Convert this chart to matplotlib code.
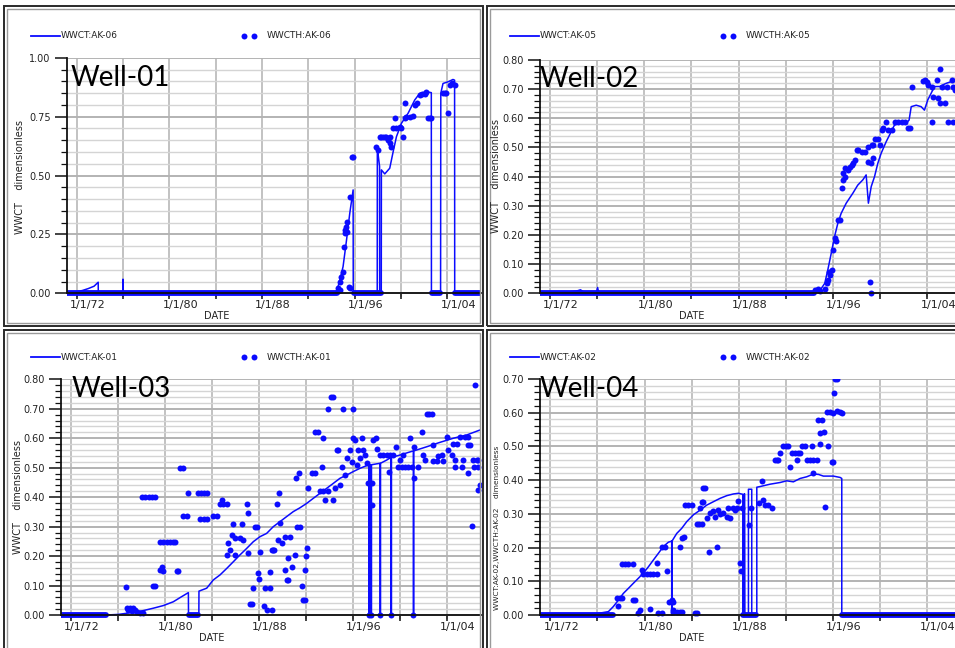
#!/usr/bin/env python3

import matplotlib
matplotlib.use('Agg')
import matplotlib.pyplot as plt
import matplotlib.transforms as mtransforms
from matplotlib.lines import Line2D
from matplotlib.patches import Rectangle
from matplotlib.ticker import FixedLocator, MultipleLocator, FormatStrFormatter, NullFormatter

BLUE = '#0b0bff'
W, H = 955, 648

date_ticks = [1972, 1980, 1988, 1996, 2004]
date_labels = ['1/1/72', '1/1/80', '1/1/88', '1/1/96', '1/1/04']
date_minor = [1976, 1984, 1992, 2000]

# ---- Well-01 (AK-06) ----
well01_line = [(1971.1, 0.0), (1971.9, 0.005), (1972.5, 0.012), (1973.0, 0.02), (1973.5, 0.03),
               (1973.86, 0.047), (1973.87, 0.0), (1975.98, 0.0), (1976.0, 0.06), (1976.03, 0.0),
               (1994.43, 0.003), (1994.72, 0.056), (1995.0, 0.113), (1995.3, 0.226), (1995.58, 0.34),
               (1995.87, 0.439), (1995.88, 0.0), (1997.95, 0.0), (1997.96, 0.62), (1998.05, 0.58),
               (1998.15, 0.54), (1998.16, 0.0), (1998.3, 0.0), (1998.31, 0.524), (1998.6, 0.507),
               (1999.03, 0.531), (1999.32, 0.6), (1999.61, 0.665), (2000.04, 0.722), (2000.61, 0.764),
               (2001.19, 0.821), (2001.62, 0.849), (2002.2, 0.856), (2002.62, 0.852), (2002.63, 0.0),
               (2003.42, 0.0), (2003.44, 0.85), (2003.63, 0.891), (2004.06, 0.898), (2004.49, 0.908),
               (2004.63, 0.905), (2004.64, 0.0), (2007.0, 0.0)]
well01_obs = [(1994.57, 0.021), (1994.72, 0.049), (1994.86, 0.07), (1995.0, 0.092), (1995.06, 0.198),
              (1995.15, 0.255), (1995.23, 0.283), (1995.3, 0.304), (1995.38, 0.262), (1995.2, 0.27),
              (1995.58, 0.411), (1995.73, 0.58), (1995.87, 0.58), (1995.52, 0.028), (1995.64, 0.021),
              (1994.6, 0.01), (1994.75, 0.015),
              (1997.88, 0.622), (1998.02, 0.608), (1998.17, 0.665), (1998.3, 0.665), (1998.45, 0.665),
              (1998.6, 0.665), (1998.75, 0.665), (1998.89, 0.651), (1999.03, 0.637), (1999.18, 0.622),
              (1999.03, 0.665), (1999.32, 0.701), (1999.46, 0.743), (1999.61, 0.701), (1999.9, 0.708),
              (2000.04, 0.701), (2000.18, 0.662), (2000.33, 0.743), (2000.47, 0.75), (2000.76, 0.75),
              (2001.04, 0.753), (2000.33, 0.806), (2001.19, 0.799), (2001.39, 0.806), (2001.62, 0.842),
              (2001.8, 0.846), (2002.05, 0.846), (2002.2, 0.856), (2002.34, 0.743), (2002.5, 0.743),
              (2002.63, 0.743), (2003.63, 0.849), (2003.78, 0.849), (2003.92, 0.849), (2004.06, 0.764),
              (2004.21, 0.884), (2004.44, 0.891), (2004.64, 0.884)]
well01_zero = [(1971.1, 1994.5), (1995.95, 1998.3), (2002.65, 2003.4), (2004.7, 2007.0)]

# ---- Well-02 (AK-05) ----
well02_line = [(1971.1, 0.0), (1972.0, 0.002), (1973.5, 0.004), (1974.3, 0.008), (1974.6, 0.012),
               (1974.9, 0.004), (1975.95, 0.003), (1976.05, 0.02), (1976.15, 0.002), (1994.2, 0.003),
               (1994.9, 0.01), (1995.3, 0.034), (1995.56, 0.08), (1995.85, 0.137), (1996.13, 0.194),
               (1996.41, 0.24), (1996.69, 0.274), (1997.12, 0.309), (1997.68, 0.343), (1998.1, 0.371),
               (1998.53, 0.389), (1998.81, 0.406), (1999.0, 0.309), (1999.24, 0.366), (1999.52, 0.4),
               (1999.8, 0.446), (2000.08, 0.48), (2000.51, 0.52), (2000.93, 0.554), (2001.21, 0.577),
               (2001.64, 0.583), (2002.2, 0.583), (2002.45, 0.594), (2002.63, 0.64), (2003.05, 0.645),
               (2003.47, 0.64), (2003.75, 0.628), (2004.03, 0.663), (2004.32, 0.686), (2004.6, 0.709),
               (2005.03, 0.709), (2005.59, 0.72), (2006.4, 0.731)]
well02_obs = [(1994.47, 0.011), (1994.76, 0.014), (1994.9, 0.009), (1995.32, 0.014), (1995.46, 0.034),
              (1995.6, 0.046), (1995.69, 0.074), (1995.89, 0.08), (1995.75, 0.063), (1996.03, 0.149),
              (1996.17, 0.189), (1996.25, 0.18), (1996.45, 0.251), (1996.59, 0.251), (1996.73, 0.36),
              (1996.82, 0.389), (1997.02, 0.4), (1996.87, 0.411), (1997.02, 0.429), (1997.3, 0.423),
              (1997.44, 0.434), (1997.58, 0.44), (1997.72, 0.446), (1997.86, 0.457), (1998.0, 0.491),
              (1998.15, 0.491), (1998.43, 0.486), (1998.71, 0.486), (1998.99, 0.503), (1999.28, 0.508),
              (1998.99, 0.451), (1999.22, 0.446), (1999.36, 0.463), (1999.42, 0.508), (1999.56, 0.528),
              (1999.84, 0.528), (1999.98, 0.508), (2000.13, 0.56), (2000.26, 0.566), (2000.49, 0.588),
              (2000.69, 0.56), (2000.97, 0.56), (2001.25, 0.588), (2001.53, 0.588), (2001.82, 0.588),
              (2002.1, 0.588), (2002.38, 0.566), (2002.55, 0.566), (2002.67, 0.709), (2003.65, 0.728),
              (2003.8, 0.731), (2003.94, 0.726), (2004.08, 0.714), (2004.36, 0.709), (2004.36, 0.588),
              (2004.5, 0.674), (2004.78, 0.731), (2004.9, 0.668), (2005.07, 0.769), (2005.07, 0.651),
              (2005.21, 0.709), (2005.49, 0.651), (2005.63, 0.709), (2005.77, 0.588), (2006.05, 0.731),
              (2006.19, 0.709), (2006.19, 0.588), (2006.34, 0.697), (1999.14, 0.04), (1999.22, 0.0)]
well02_zero = [(1971.1, 1994.4)]

# ---- Well-03 (AK-01) ----
well03_line = [(1971.1, 0.0), (1975.0, 0.0), (1976.03, 0.002), (1977.3, 0.009), (1978.16, 0.015),
               (1979.0, 0.023), (1979.86, 0.032), (1980.71, 0.045), (1981.28, 0.059), (1981.99, 0.076),
               (1982.0, 0.0), (1982.88, 0.0), (1982.89, 0.081), (1983.55, 0.091), (1984.11, 0.119),
               (1984.68, 0.136), (1985.25, 0.158), (1985.82, 0.181), (1986.38, 0.204), (1986.95, 0.226),
               (1987.52, 0.249), (1988.09, 0.266), (1988.65, 0.277), (1989.22, 0.3), (1989.79, 0.317),
               (1990.35, 0.334), (1990.92, 0.351), (1991.49, 0.364), (1992.06, 0.379), (1992.62, 0.396),
               (1993.19, 0.413), (1993.76, 0.43), (1994.33, 0.447), (1994.89, 0.464), (1995.46, 0.475),
               (1996.03, 0.487), (1996.6, 0.498), (1997.16, 0.507),
               (1997.36, 0.509), (1997.36, 0.0), (1997.4, 0.0), (1997.4, 0.509),
               (1997.53, 0.51), (1997.53, 0.0), (1997.57, 0.0), (1997.57, 0.51),
               (1998.3, 0.515), (1998.3, 0.0), (1998.34, 0.0), (1998.34, 0.515),
               (1998.87, 0.526), (1999.23, 0.535), (1999.23, 0.0), (1999.27, 0.0), (1999.27, 0.535),
               (2000.0, 0.543), (2001.13, 0.557), (2001.13, 0.0), (2001.17, 0.0), (2001.17, 0.557),
               (2002.27, 0.571), (2003.4, 0.586), (2004.54, 0.6), (2005.67, 0.611), (2006.81, 0.628),
               (2007.0, 0.63)]
well03_obs = [(1976.7, 0.096),
              (1976.74, 0.023), (1976.88, 0.017), (1977.02, 0.025), (1977.16, 0.012), (1977.3, 0.025),
              (1977.45, 0.017), (1977.59, 0.009), (1977.87, 0.006), (1978.16, 0.006),
              (1978.01, 0.402), (1978.3, 0.402), (1978.6, 0.402), (1978.9, 0.402), (1979.15, 0.402),
              (1979.01, 0.10), (1979.15, 0.10),
              (1979.57, 0.153), (1979.72, 0.164), (1979.86, 0.15), (1981.0, 0.15), (1981.13, 0.15),
              (1979.57, 0.249), (1979.85, 0.249), (1980.15, 0.249), (1980.45, 0.249), (1980.71, 0.249),
              (1980.85, 0.249),
              (1981.28, 0.50), (1981.56, 0.50), (1981.56, 0.336), (1981.84, 0.336),
              (1981.99, 0.413), (1982.84, 0.413), (1983.1, 0.413), (1983.3, 0.413), (1983.55, 0.413),
              (1983.0, 0.325), (1983.3, 0.325), (1983.55, 0.325), (1984.1, 0.335), (1984.4, 0.335),
              (1984.68, 0.377), (1984.82, 0.39), (1984.96, 0.377), (1985.25, 0.377),
              (1985.82, 0.308), (1986.53, 0.308), (1986.95, 0.376), (1987.09, 0.345),
              (1985.67, 0.272), (1985.96, 0.26), (1986.38, 0.26), (1986.6, 0.255),
              (1985.39, 0.243), (1985.53, 0.22), (1985.25, 0.204), (1985.96, 0.204),
              (1987.66, 0.30), (1987.8, 0.30), (1987.03, 0.209), (1988.09, 0.215),
              (1987.95, 0.141), (1988.03, 0.121), (1987.46, 0.09), (1987.23, 0.036), (1987.38, 0.036),
              (1988.43, 0.031), (1988.51, 0.09), (1988.65, 0.017),
              (1989.08, 0.22), (1989.2, 0.22), (1989.3, 0.22), (1989.65, 0.255), (1989.93, 0.243),
              (1989.79, 0.311), (1989.5, 0.376), (1989.73, 0.413),
              (1990.21, 0.266), (1990.64, 0.266), (1990.5, 0.192), (1991.06, 0.204),
              (1990.21, 0.153), (1990.78, 0.164), (1990.35, 0.119), (1990.5, 0.119),
              (1988.94, 0.147), (1988.94, 0.09), (1989.08, 0.017),
              (1991.21, 0.30), (1991.49, 0.30), (1991.15, 0.464), (1991.43, 0.481),
              (1992.06, 0.226), (1992.0, 0.201), (1991.91, 0.153), (1991.63, 0.10), (1991.77, 0.051),
              (1991.91, 0.051),
              (1992.2, 0.43), (1992.48, 0.481), (1992.76, 0.481), (1993.33, 0.504),
              (1992.76, 0.622), (1993.05, 0.622), (1993.48, 0.60),
              (1993.19, 0.422), (1993.48, 0.422), (1993.9, 0.422), (1993.62, 0.39), (1994.33, 0.39),
              (1994.47, 0.43), (1994.89, 0.441),
              (1993.9, 0.70), (1994.13, 0.741), (1994.27, 0.741), (1995.12, 0.698), (1996.03, 0.698),
              (1994.61, 0.56), (1994.75, 0.56), (1996.03, 0.60), (1996.17, 0.594), (1996.74, 0.60),
              (1995.04, 0.504), (1995.32, 0.475), (1995.74, 0.56), (1995.46, 0.532), (1995.89, 0.52),
              (1996.31, 0.509), (1996.6, 0.532), (1996.45, 0.56), (1996.88, 0.56), (1997.02, 0.543),
              (1997.16, 0.515),
              (1997.3, 0.447), (1997.45, 0.447), (1997.59, 0.447), (1997.59, 0.373),
              (1997.73, 0.594), (1997.95, 0.60), (1998.01, 0.562),
              (1998.3, 0.543), (1998.58, 0.543), (1998.87, 0.543), (1999.15, 0.543), (1999.09, 0.487),
              (1999.43, 0.543), (1999.66, 0.571),
              (1999.86, 0.504), (2000.14, 0.504), (2000.43, 0.504), (2000.71, 0.504), (2000.99, 0.504),
              (2000.0, 0.526), (2000.28, 0.543), (2000.85, 0.60), (2001.19, 0.571), (2001.19, 0.464),
              (2001.56, 0.504), (2001.84, 0.622), (2001.99, 0.543), (2002.13, 0.526),
              (2002.27, 0.681), (2002.5, 0.681), (2002.7, 0.681),
              (2002.84, 0.577), (2002.84, 0.524), (2003.12, 0.524), (2003.26, 0.54), (2003.54, 0.543),
              (2003.69, 0.524),
              (2003.97, 0.603), (2004.11, 0.56), (2004.4, 0.543), (2004.54, 0.58), (2004.82, 0.58),
              (2004.68, 0.504), (2005.25, 0.504), (2004.68, 0.526), (2005.39, 0.526),
              (2005.11, 0.605), (2005.5, 0.605), (2005.82, 0.605), (2005.82, 0.577), (2005.96, 0.577),
              (2005.82, 0.481), (2006.1, 0.302),
              (2006.24, 0.526), (2006.52, 0.526), (2006.67, 0.526), (2006.3, 0.504), (2006.67, 0.504),
              (2006.38, 0.781), (2006.6, 0.424), (2006.81, 0.441),
              (1997.36, 0.0), (1997.53, 0.0), (1998.3, 0.0), (1999.23, 0.0), (2001.13, 0.0)]
well03_zero = [(1971.1, 1975.0), (1982.05, 1982.85)]

# ---- Well-04 (AK-02) ----
well04_line = [(1971.1, 0.0), (1975.94, 0.004), (1976.93, 0.01), (1977.35, 0.025), (1977.78, 0.044),
               (1978.2, 0.064), (1978.63, 0.079), (1979.05, 0.094), (1979.48, 0.109), (1979.9, 0.124),
               (1980.33, 0.143), (1980.75, 0.163), (1981.18, 0.183), (1981.6, 0.203), (1982.03, 0.216),
               (1982.31, 0.219), (1982.31, 0.0), (1982.35, 0.0), (1982.35, 0.22),
               (1982.74, 0.242), (1983.16, 0.257), (1983.59, 0.277), (1984.15, 0.297), (1984.72, 0.311),
               (1985.29, 0.326), (1985.85, 0.336), (1986.42, 0.346), (1986.99, 0.354), (1987.55, 0.359),
               (1987.98, 0.361), (1988.35, 0.358), (1988.35, 0.0), (1988.49, 0.0), (1988.49, 0.36),
               (1988.51, 0.0), (1988.83, 0.0), (1988.83, 0.373), (1989.11, 0.373), (1989.11, 0.0),
               (1989.54, 0.0), (1989.54, 0.379), (1989.82, 0.381), (1990.67, 0.388), (1991.52, 0.393),
               (1992.08, 0.398), (1992.65, 0.395), (1993.22, 0.405), (1993.78, 0.41), (1994.35, 0.418),
               (1994.78, 0.417), (1995.2, 0.412), (1996.05, 0.412), (1996.62, 0.408), (1996.76, 0.405),
               (1996.76, 0.0), (2007.0, 0.0)]
well04_obs = [(1977.78, 0.027), (1977.64, 0.051), (1977.92, 0.051), (1978.06, 0.051), (1978.06, 0.151),
              (1978.35, 0.151), (1978.63, 0.151), (1979.05, 0.151), (1979.05, 0.044), (1979.2, 0.044),
              (1979.62, 0.015), (1979.48, 0.007), (1979.76, 0.133), (1979.9, 0.122), (1980.19, 0.122),
              (1980.47, 0.122), (1980.75, 0.122), (1981.04, 0.122), (1980.47, 0.018), (1981.04, 0.153),
              (1981.46, 0.203), (1981.75, 0.203), (1981.89, 0.131), (1981.18, 0.005), (1981.46, 0.005),
              (1982.31, 0.044), (1982.4, 0.015), (1982.45, 0.01), (1982.74, 0.01), (1983.02, 0.01),
              (1983.16, 0.01), (1982.1, 0.04), (1982.45, 0.04), (1983.02, 0.203), (1983.16, 0.227),
              (1983.36, 0.232), (1983.44, 0.326), (1983.7, 0.326), (1984.0, 0.326), (1984.44, 0.27),
              (1984.65, 0.27), (1984.86, 0.27), (1984.29, 0.005), (1984.5, 0.005), (1984.72, 0.318),
              (1984.86, 0.336), (1985.0, 0.376), (1985.14, 0.376), (1985.0, 0.336), (1985.29, 0.287),
              (1985.57, 0.302), (1985.85, 0.307), (1985.99, 0.292), (1986.28, 0.311), (1986.42, 0.30),
              (1986.7, 0.302), (1986.99, 0.292), (1987.13, 0.316), (1987.27, 0.287), (1987.55, 0.316),
              (1987.69, 0.311), (1987.98, 0.339), (1987.84, 0.316), (1988.26, 0.316), (1985.51, 0.188),
              (1986.14, 0.203), (1988.12, 0.155), (1988.18, 0.131), (1988.91, 0.267), (1989.05, 0.316),
              (1989.96, 0.396), (1989.76, 0.331), (1990.1, 0.341), (1990.24, 0.326), (1990.53, 0.326),
              (1990.81, 0.316), (1991.09, 0.46), (1991.24, 0.46), (1991.38, 0.46), (1991.52, 0.48),
              (1991.8, 0.50), (1992.03, 0.50), (1992.23, 0.50), (1992.37, 0.44), (1992.51, 0.481),
              (1992.79, 0.481), (1993.08, 0.481), (1993.22, 0.481), (1992.94, 0.46), (1993.36, 0.50),
              (1993.64, 0.50), (1993.78, 0.46), (1994.07, 0.46), (1994.35, 0.46), (1994.63, 0.46),
              (1994.21, 0.50), (1994.35, 0.422), (1994.92, 0.507), (1994.78, 0.578), (1995.06, 0.578),
              (1994.92, 0.541), (1995.26, 0.543), (1995.34, 0.319), (1995.63, 0.501), (1995.48, 0.603),
              (1995.77, 0.603), (1995.91, 0.455), (1996.0, 0.455), (1996.11, 0.657), (1996.19, 0.699),
              (1996.39, 0.699), (1996.05, 0.598), (1996.33, 0.606), (1996.62, 0.603), (1996.76, 0.60)]
well04_zero = [(1971.1, 1977.3), (1988.4, 1989.5), (1996.8, 2007.0)]


fig = plt.figure(figsize=(W / 100, H / 100), dpi=100)


def fx(px):
    return px / W


def fy(py):
    return 1 - py / H


def frame(x0, y0, x1, y1):
    """double border round one panel, given in pixels"""
    fig.patches.append(Rectangle((fx(x0), fy(y1)), fx(x1) - fx(x0), fy(y0) - fy(y1),
                                 transform=fig.transFigure, fill=False, ec='#2a2a2a', lw=1.4))
    fig.patches.append(Rectangle((fx(x0 + 3), fy(y1 - 3)), fx(x1 - 6) - fx(x0), fy(y0) - fy(y1 - 6),
                                 transform=fig.transFigure, fill=False, ec='#9a9a9a', lw=1.0))


def panel(name, line, obs, zeros, labels, ylab, ymax, ystep, yminor, box, xlim, leg, well_xy,
          ylab_xy, date_xy, ylab_size=7):
    left, right, y0, ytop = box
    pad = 4
    ppu = (y0 - ytop) / ymax
    ax = fig.add_axes([fx(left), fy(y0 + pad), fx(right) - fx(left), fy(ytop) - fy(y0 + pad)])
    ax.set_xlim(*xlim)
    ax.set_ylim(-pad / ppu, ymax)
    ax.set_axisbelow(True)

    for s in ['top', 'right']:
        ax.spines[s].set_visible(False)
    ax.spines['bottom'].set_position(('data', 0))
    ax.spines['left'].set_bounds(0, ymax)
    for s in ['left', 'bottom']:
        ax.spines[s].set_linewidth(1.3)
        ax.spines[s].set_color('#111111')

    ax.xaxis.set_major_locator(FixedLocator(date_ticks))
    ax.xaxis.set_minor_locator(FixedLocator(date_minor))
    ax.xaxis.set_major_formatter(NullFormatter())
    ax.yaxis.set_major_locator(MultipleLocator(ystep))
    ax.yaxis.set_minor_locator(MultipleLocator(yminor))
    ax.yaxis.set_major_formatter(FormatStrFormatter('%.2f'))
    ax.tick_params(axis='x', which='both', direction='out', length=4, width=1.1, color='#111111')
    ax.tick_params(axis='y', which='major', direction='out', length=8.5, width=1.1,
                   color='#111111', labelsize=7, labelcolor='#222222', pad=3)
    ax.tick_params(axis='y', which='minor', direction='out', length=4.2, width=0.9, color='#111111')

    ax.grid(True, which='both', axis='x', color='#c2c2c2', lw=1.4)
    ax.grid(True, which='major', axis='y', color='#b3b3b3', lw=1.4)
    ax.grid(True, which='minor', axis='y', color='#d4d4d4', lw=1.0)

    lab_tr = mtransforms.offset_copy(ax.transData, fig=fig, x=11, y=-7, units='dots')
    for d, lbl in zip(date_ticks, date_labels):
        ax.text(d, 0, lbl, transform=lab_tr, ha='center', va='top', fontsize=8, color='#222222')

    lt, lv = zip(*line)
    ot, ov = zip(*obs)
    for s, e in zeros:
        ax.plot([s, e], [0, 0], color=BLUE, lw=4.2, solid_capstyle='round')
    ax.plot(lt, lv, color=BLUE, lw=1.1)
    ax.plot(ot, ov, 'o', ms=4.3, color=BLUE, mec='none')

    # legend row above the plot
    ly, lx0, lx1, tx1, dx0, dx1, tx2 = leg
    fig.lines.append(Line2D([fx(lx0), fx(lx1)], [fy(ly), fy(ly)], transform=fig.transFigure,
                            color=BLUE, lw=1.3))
    fig.text(fx(tx1), fy(ly), labels[0], ha='left', va='center', fontsize=6.5, color='#222222')
    fig.lines.append(Line2D([fx(dx0), fx(dx1)], [fy(ly), fy(ly)], transform=fig.transFigure,
                            ls='none', marker='o', ms=4.3, color=BLUE, mec='none'))
    fig.text(fx(tx2), fy(ly), labels[1], ha='left', va='center', fontsize=6.5, color='#222222')

    fig.text(fx(well_xy[0]), fy(well_xy[1]), name, ha='left', va='baseline',
             fontsize=20, family=['Lato', 'DejaVu Sans'], color='black')
    fig.text(fx(ylab_xy[0]), fy(ylab_xy[1]), ylab, rotation=90, ha='center', va='center',
             fontsize=ylab_size, color='#222222')
    fig.text(fx(date_xy[0]), fy(date_xy[1]), 'DATE', ha='center', va='center',
             fontsize=7, color='#222222')
    return ax


frame(4, 6, 483, 326)
frame(487, 6, 970, 326)
frame(4, 330, 483, 670)
frame(487, 330, 970, 670)

panel('Well-01', well01_line, well01_obs, well01_zero, ['WWCT:AK-06', 'WWCTH:AK-06'],
      'WWCT    dimensionless', 1.0, 0.25, 0.05, (66.7, 481, 293.3, 57.8), (1971.14, 2006.91),
      (35.5, 31, 60, 61, 244, 254, 267), (71, 86), (20, 177), (216.7, 316))
panel('Well-02', well02_line, well02_obs, well02_zero, ['WWCT:AK-05', 'WWCTH:AK-05'],
      'WWCT    dimensionless', 0.8, 0.1, 0.02, (540, 955, 293.3, 60), (1971.17, 2006.34),
      (35.5, 510, 539, 540, 722.7, 733.3, 745.7), (540, 87), (496, 176), (691.7, 316))
panel('Well-03', well03_line, well03_obs, well03_zero, ['WWCT:AK-01', 'WWCTH:AK-01'],
      'WWCT    dimensionless', 0.8, 0.1, 0.02, (61, 481, 615, 379.3), (1971.15, 2006.89),
      (357.3, 31, 60, 61, 244, 254, 267), (71.7, 397), (18.3, 496.7), (212, 638))
panel('Well-04', well04_line, well04_obs, well04_zero, ['WWCT:AK-02', 'WWCTH:AK-02'],
      'WWCT:AK-02,WWCTH:AK-02    dimensionless', 0.7, 0.1, 0.02, (540, 955, 615, 379),
      (1971.12, 2006.38), (357.3, 510, 539, 540, 722.7, 733.3, 745.7), (540, 397),
      (497.3, 527.5), (691.7, 638), ylab_size=5.3)

fig.savefig('out.png', dpi=100, facecolor='white')
